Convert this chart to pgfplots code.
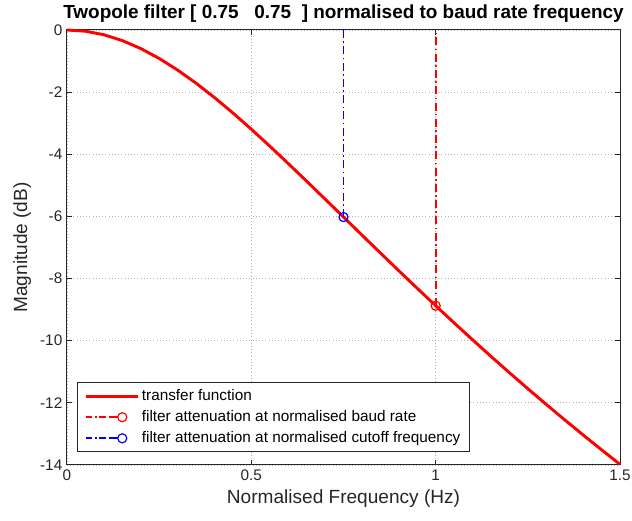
\documentclass[border=0pt]{standalone}
\usepackage{pgfplots}
\pgfplotsset{compat=1.18}
\usepackage{fontspec}
\setmainfont{Liberation Sans}
\definecolor{axgray}{rgb}{0.15,0.15,0.15}
\definecolor{mred}{rgb}{1,0,0}
\definecolor{mblue}{rgb}{0,0,1}
\newcommand{\legdd}[1]{%
  \draw[#1, line width=1.3pt, dash pattern=on 5pt off 2pt on 1.2pt off 2pt] (0pt,0pt) -- (18pt,0pt);
  \draw[#1, solid, line width=1.3pt] (18pt,0pt) -- (24pt,0pt);
  \draw[#1, solid, line width=0.9pt] (27.5pt,0pt) circle (3.4pt);
  \path (39pt,0pt);}
\begin{document}
\begin{tikzpicture}
\useasboundingbox (0,0) rectangle (474pt,390.75pt);
\begin{axis}[
  at={(50.25pt,42pt)}, anchor=south west,
  scale only axis, width=414.75pt, height=326.25pt,
  xmin=0, xmax=1.5, ymin=-14, ymax=0,
  xtick={0,0.5,1,1.5}, ytick={-14,-12,-10,-8,-6,-4,-2,0},
  yticklabels={-14,-12,-10,-8,-6,-4,-2,0},
  xticklabels={0,0.5,1,1.5},
  /pgf/number format/assume math mode=true,
  grid=major, major grid style={dotted, gray!60, line width=0.6pt},
  axis line style={axgray, line width=0.75pt},
  tick style={axgray, line width=0.75pt},
  tick align=inside, major tick length=4pt,
  tick label style={font=\fontsize{11.5}{13}\selectfont, text=axgray},
  label style={font=\fontsize{14.3}{16}\selectfont, text=axgray},
  xlabel={Normalised Frequency (Hz)},
  ylabel={Magnitude (dB)},
  title={\textbf{Twopole filter [ 0.75\ \ \ 0.75\ \ ] normalised to baud rate frequency}},
  title style={font=\fontsize{14.2}{16}\selectfont, yshift=-4pt},
  legend style={at={(0.018,0.03)}, anchor=south west, font=\fontsize{11.5}{13}\selectfont,
    draw=axgray, line width=0.6pt, fill=white, cells={anchor=west}, row sep=2pt,
    inner xsep=5pt, inner ysep=3pt},
  legend cell align=left,
  clip=false,
]
\addplot[mred, line width=2.2pt, no marks,
  legend image code/.code={
    \draw[mred, line width=2.4pt] (0pt,0pt) -- (39pt,0pt);}
] coordinates {
(0,0) (0.05,-0.0385) (0.1,-0.1531) (0.15,-0.3407) (0.2,-0.5967) (0.25,-0.9151)
(0.3,-1.2892) (0.35,-1.7114) (0.4,-2.1743) (0.45,-2.6708) (0.5,-3.1940)
(0.55,-3.7379) (0.6,-4.2969) (0.65,-4.8663) (0.7,-5.4419) (0.75,-6.0206)
(0.8,-6.5993) (0.85,-7.1756) (0.9,-7.7478) (0.95,-8.3143) (1.0,-8.8739)
(1.05,-9.4258) (1.1,-9.9693) (1.15,-10.5038) (1.2,-11.0290) (1.25,-11.5447)
(1.3,-12.0508) (1.35,-12.5473) (1.4,-13.0342) (1.45,-13.5115) (1.5,-13.9794)
};
\addlegendentry{transfer function}
\addplot[mred, line width=1.4pt, dash pattern=on 6pt off 2.5pt on 1.2pt off 2.5pt, no marks,
  legend image code/.code={\legdd{mred}}
] coordinates {(1,-8.8739) (1,0)};
\addlegendentry{filter attenuation at normalised baud rate}
\addplot[mblue, line width=1.4pt, dash pattern=on 6pt off 2.5pt on 1.2pt off 2.5pt, no marks,
  legend image code/.code={\legdd{mblue}}
] coordinates {(0.75,-6.0206) (0.75,0)};
\addlegendentry{filter attenuation at normalised cutoff frequency}
\addplot[mred, only marks, mark=o, mark size=3.4pt, mark options={line width=0.9pt}, forget plot]
  coordinates {(1,-8.8739)};
\addplot[mblue, only marks, mark=o, mark size=3.4pt, mark options={line width=0.9pt}, forget plot]
  coordinates {(0.75,-6.0206)};
\end{axis}
\end{tikzpicture}
\end{document}
